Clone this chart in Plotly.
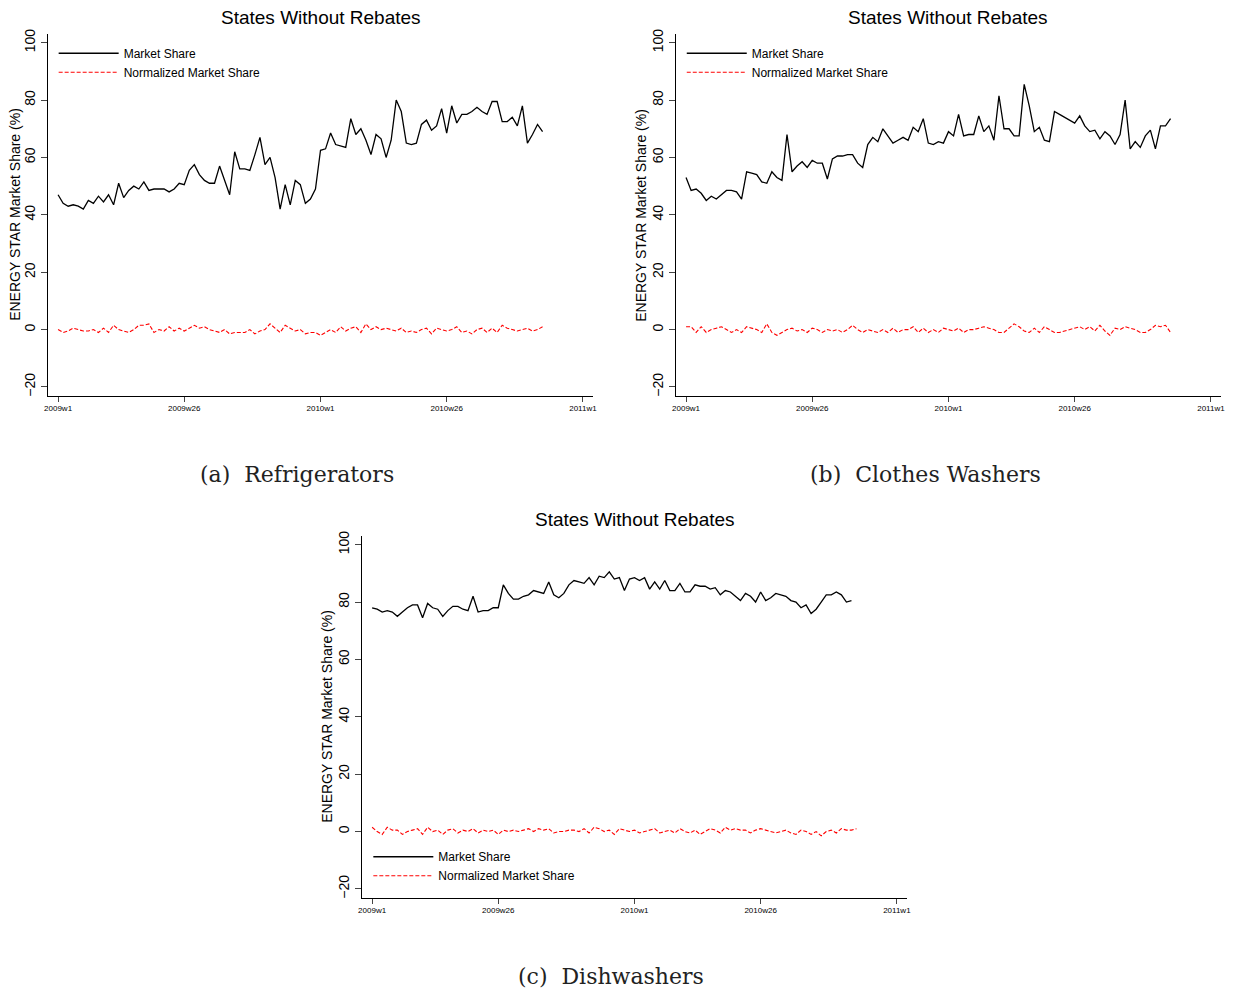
import plotly.graph_objects as go

# weekly data, 2009w1 .. 2010w45 (Stata weeks, 52 per year)
fridge_share = [47, 44, 43, 43.5, 43, 42, 45, 44, 46.5, 44.5, 47, 43.5, 51, 46, 48.5, 50, 49, 51.5,
                48.5, 49, 49, 49, 48, 49, 51, 50.5, 55.5, 57.5, 54, 52, 51, 51, 57, 52, 47, 62, 56,
                56, 55.5, 61, 67, 57.5, 60, 53, 42, 50.5, 43.5, 52, 50.5, 44, 45.5, 49, 62.5, 63,
                68.5, 64.5, 64, 63.5, 73.5, 68, 70, 66, 61, 68, 66.5, 60, 66, 80, 76, 65, 64.5, 65,
                71.5, 73, 69.5, 71, 77, 68.5, 78, 72, 75, 75, 76, 77.5, 76, 75, 79.5, 79.5, 72.5,
                72.5, 74, 71, 78, 65, 68, 71.5, 69]
washer_share = [53, 48.5, 49, 47.5, 45, 46.5, 45.5, 47, 48.5, 48.5, 48, 45.5, 55, 54.5, 54, 51.5, 51,
                55, 53, 52, 68, 55, 57, 58.5, 56.5, 59, 58, 58, 52.5, 59.5, 60.5, 60.5, 61, 61, 58,
                56.5, 64.5, 67, 65.5, 70, 67.5, 65, 66, 67, 66, 70.5, 69, 73.5, 65, 64.5, 65.5, 65,
                69, 67.5, 75, 67.5, 68, 68, 74.5, 69, 71, 66, 81.5, 70, 70, 67.5, 67.5, 85.5, 78, 69,
                70.5, 66, 65.5, 76, 75, 74, 73, 72, 74.5, 71, 69, 69.5, 66.5, 69, 67.5, 64.5, 68,
                80, 63, 65.5, 63.5, 67.5, 69.5, 63, 71, 71, 73.5]
dish_share = [78, 77.5, 76.5, 77, 76.5, 75, 76.5, 78, 79, 79, 74.5, 79.5, 78, 77.5, 75, 77, 78.5,
              78.5, 77.5, 77, 82, 76.5, 77, 77, 78, 78, 86, 83, 81, 81, 82, 82.5, 84, 83.5, 83, 87,
              82.5, 81.5, 83, 86, 87.5, 87, 86.5, 88.5, 86, 89, 88.5, 90.5, 88, 88.5, 84, 88, 88.5,
              87.5, 88.5, 84.5, 87, 84.5, 87.5, 84, 84, 86.5, 83.5, 83.5, 86, 85.5, 85.5, 84.5, 85,
              82.5, 84, 83.5, 82, 80.5, 83, 82, 80, 83.5, 80.5, 81.5, 83, 82.5, 82, 80.5, 80, 78,
              79, 76, 77.5, 80, 82.5, 82.5, 83.5, 82.5, 80, 80.5]
fridge_norm = [0, -1, -0.5, 0.5, 0, -0.5, -0.5, 0, -1, 0.5, -1, 1.5, 0, -0.5, -1, 0, 1.5, 1.5, 2, -1,
               0, -0.5, 1, -0.5, 0.5, -0.5, 0.5, 1.5, 0.5, 1, 0, -0.5, -1, 0, -1.5, -1, -1, -1, 0,
               -1.5, -0.5, 0, 2, 0.5, -1, 1.5, 0.5, -0.5, 0, -1.5, -1, -1, -2, -1, 0, -1, 1, -0.5,
               0.5, 1, -1, 2, 0, 1, 0, 0.5, 0, -0.5, 0.5, -1, -0.5, -1, 0, 0.5, -1.5, 0.5, 0,
               -0.5, 0, 1, -1, -0.5, -1.5, 0, 0.5, -1, 0.5, -1, 1.5, 0.5, 0, -0.5, 0, 0.5, -0.5, 0,
               1]
washer_norm = [1, 1, -1, 1, -1, 0, 0.5, 1, 0, -1, 0, -1, 1, 0.5, 0, -1, 2, -1, -2, -1, 0, 0.5, -0.5,
               0, -1, 0.5, 0, -1, 0, -0.5, 0, -1, 0, 1.5, 0, -1, 0, -0.5, -1, 0, -1, 0.5, -1, 0, 0,
               1, -1, 0.5, -1, 0, -1, 0.5, 0, -0.5, 0.5, -1, 0, 0, 0.5, 1, 0.5, 0, -1, -1, 0.5, 2,
               1, -0.5, -1, 0.5, -1, 1, 0, -1, -1, -0.5, 0, 0.5, 1, 0, 1, -0.5, 1.5, -0.5, -2, 0.5,
               0, 1, 0.5, 0, -1, -1, 0, 1.5, 1, 1.5, -1]
dish_norm = [1.5, 0, -1, 1.5, 0.5, 0.5, -1, 0, 0.5, 1, -1, 1.5, 0, 0.5, -1, 0.5, 1, -0.5, 0.5, 0,
             1, -0.5, 0.5, 0, 0.5, -1, 0.5, 0, 0.5, 0, 0.5, 1, 0, 1, 0.5, 1, -0.5, 0, 0, 0.5, 0.5,
             0, 1, -0.5, 1.5, 1, 0, 0.5, -1, 1, 0.5, 0, 0.5, -0.5, 0, 0.5, 1, -0.5, 0, 0.5, -0.5,
             1, 0, -0.5, 0.5, -1, 0, 1, 0.5, -0.5, 1.5, 0.5, 1, 0.5, 0.5, -0.5, 0.5, 1, 0.5, 0,
             -0.5, 0, 0.5, -0.5, -1, 0.5, 0, -1, 0, -1.5, 0, 0.5, -0.5, 1, 0.5, 0.5, 1]

tick_vals = [0, 25, 52, 77, 104]
tick_text = ["2009w1", "2009w26", "2010w1", "2010w26", "2011w1"]
y_ticks = [-20, 0, 20, 40, 60, 80, 100]

panels = [
    (fridge_share, fridge_norm, [0.0324, 0.4741], [0.609, 0.974], "(a)  Refrigerators", "legend"),
    (washer_share, washer_norm, [0.5413, 0.983], [0.609, 0.974], "(b)  Clothes Washers", "legend2"),
    (dish_share, dish_norm, [0.2869, 0.7285], [0.103, 0.468], "(c)  Dishwashers", "legend3"),
]

fig = go.Figure()
font = "Liberation Sans, Arial, sans-serif"
for i, (share, norm, xd, yd, caption, leg) in enumerate(panels):
    n = "" if i == 0 else str(i + 1)
    fig.add_trace(go.Scatter(x=list(range(len(share))), y=share, mode="lines", name="Market Share",
                             line=dict(color="black", width=1.3), xaxis="x" + n, yaxis="y" + n,
                             legend=leg))
    fig.add_trace(go.Scatter(x=list(range(len(norm))), y=norm, mode="lines",
                             name="Normalized Market Share",
                             line=dict(color="red", width=1.1, dash="4px,2px"),
                             xaxis="x" + n, yaxis="y" + n, legend=leg))
    fig.layout["xaxis" + n] = dict(domain=xd, anchor="y" + n, range=[-2, 106], automargin=False,
                                   tickvals=tick_vals, ticktext=tick_text, showgrid=False,
                                   zeroline=False, showline=True, linecolor="black", ticks="outside",
                                   ticklen=5, tickfont=dict(size=8, color="black"))
    fig.layout["yaxis" + n] = dict(domain=yd, anchor="x" + n, range=[-23.1, 103.1], automargin=False,
                                   tickvals=y_ticks, showgrid=False, zeroline=False, showline=True,
                                   linecolor="black", ticks="outside", ticklen=6, tickangle=-90,
                                   tickfont=dict(size=14, color="black"))
    fig.add_annotation(text="ENERGY STAR Market Share (%)", textangle=-90,
                       x=max(xd[0] - 35 / 1234, 7 / 1234), y=(yd[0] + yd[1]) / 2,
                       xref="paper", yref="paper", xanchor="center", yanchor="middle",
                       showarrow=False, font=dict(size=14, color="black"))
    fig.add_annotation(text="States Without Rebates", x=(xd[0] + xd[1]) / 2, y=yd[1] + 0.004,
                       xref="paper", yref="paper", xanchor="center", yanchor="bottom",
                       showarrow=False, font=dict(size=19, color="black"))
    fig.add_annotation(text=caption, x=(xd[0] + xd[1]) / 2 - 0.019, y=yd[0] - 0.065,
                       xref="paper", yref="paper", xanchor="center", yanchor="top",
                       showarrow=False,
                       font=dict(size=22, color="#222", family="DejaVu Serif, serif"))

leg_style = dict(bgcolor="rgba(0,0,0,0)", font=dict(size=12, color="black"), itemwidth=60,
                 tracegroupgap=0, xanchor="left", yanchor="top")
fig.update_layout(
    width=1234, height=992, plot_bgcolor="white", paper_bgcolor="white",
    font=dict(family=font, color="black"), margin=dict(l=0, r=0, t=0, b=0, autoexpand=False),
    legend=dict(x=0.037, y=0.969, **leg_style),
    legend2=dict(x=0.546, y=0.969, **leg_style),
    legend3=dict(x=0.292, y=0.159, **leg_style),
)
fig.write_html("out.html")
